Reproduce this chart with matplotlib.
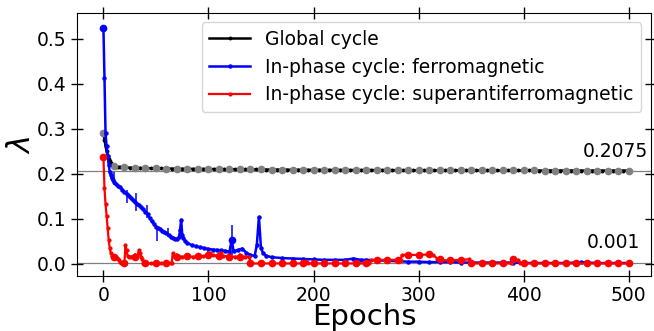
import numpy as np
import matplotlib
matplotlib.use("Agg")
from matplotlib import pyplot as plt

# global cycle
g_epochs = [0, 1, 2, 3, 4, 5, 6, 7, 8, 9, 10, 12, 14, 16, 18, 20] + list(range(25, 501, 5))
g_vals = [0.290, 0.276, 0.262, 0.250, 0.241, 0.234, 0.228, 0.224, 0.221, 0.219, 0.218,
          0.2165, 0.2158, 0.2153, 0.2150, 0.2146,
          0.2140, 0.2136, 0.2132, 0.2129, 0.2126, 0.2124, 0.2122, 0.2120, 0.2118, 0.2116,
          0.2115, 0.2113, 0.2112, 0.2111, 0.2110, 0.2109, 0.2108, 0.2107, 0.2106, 0.2105,
          0.2104, 0.2103, 0.2102, 0.2101, 0.2100, 0.2099, 0.2098, 0.2097, 0.2096, 0.2095,
          0.2094, 0.2093, 0.2092, 0.2092, 0.2091, 0.2090, 0.2090, 0.2089, 0.2089, 0.2088,
          0.2088, 0.2087, 0.2087, 0.2086, 0.2086, 0.2086, 0.2085, 0.2085, 0.2085, 0.2084,
          0.2084, 0.2084, 0.2083, 0.2083, 0.2083, 0.2082, 0.2082, 0.2082, 0.2081, 0.2081,
          0.2081, 0.2080, 0.2080, 0.2080, 0.2080, 0.2079, 0.2079, 0.2079, 0.2079, 0.2078,
          0.2078, 0.2078, 0.2078, 0.2077, 0.2077, 0.2077, 0.2077, 0.2077, 0.2076, 0.2076,
          0.2076, 0.2076, 0.2076, 0.2076, 0.2076, 0.2075, 0.2075, 0.2075, 0.2075, 0.2075,
          0.2075, 0.2075, 0.2075, 0.2075, 0.2075, 0.2075]

# in-phase ferromagnetic
b_epochs = [0, 1, 2, 3, 4, 5, 6, 7, 8, 9, 10, 12, 14, 16, 18, 20, 22, 24, 26, 28, 30,
            32, 34, 36, 38, 40, 42, 44, 46, 48, 50, 52, 54, 56, 58, 60, 62, 64, 66, 68, 70,
            72, 73, 74, 75, 76, 78, 80, 84, 88, 92, 96, 100, 104, 108, 112, 116, 120, 122,
            124, 128, 132, 136, 140, 144, 146, 148, 150, 152, 155, 160, 170, 180, 190, 200,
            210, 220, 230, 238, 245, 250, 260, 270, 280, 290, 300, 310, 320, 330, 340, 350,
            360, 370, 380, 390, 400, 410, 420, 430, 440, 450, 455, 460, 470, 480, 490, 500]
b_vals = [0.525, 0.413, 0.290, 0.262, 0.240, 0.220, 0.205, 0.197, 0.190, 0.186, 0.183,
          0.178, 0.174, 0.170, 0.165, 0.160, 0.156, 0.152, 0.147, 0.142, 0.138,
          0.134, 0.130, 0.126, 0.121, 0.116, 0.110, 0.102, 0.095, 0.089, 0.083, 0.080,
          0.077, 0.074, 0.071, 0.068, 0.064, 0.060, 0.058, 0.056, 0.055,
          0.060, 0.076, 0.098, 0.065, 0.058, 0.050, 0.046, 0.042, 0.039, 0.037, 0.035,
          0.033, 0.032, 0.031, 0.030, 0.029, 0.027, 0.053,
          0.028, 0.031, 0.034, 0.025, 0.020, 0.018, 0.042, 0.104, 0.035, 0.024, 0.018,
          0.015, 0.013, 0.012, 0.011, 0.010,
          0.009, 0.009, 0.009, 0.012, 0.009, 0.009, 0.008, 0.007, 0.006, 0.005, 0.005,
          0.004, 0.004, 0.004, 0.003, 0.003,
          0.003, 0.003, 0.003, 0.003, 0.002, 0.002, 0.002, 0.002, 0.002, 0.003, 0.004,
          0.003, 0.002, 0.002, 0.002, 0.002]
b_big = [0, 122]
b_err_ep = [10, 22, 31, 41, 51, 61, 74, 122]
b_err_val = [0.190, 0.150, 0.137, 0.116, 0.066, 0.070, 0.080, 0.053]
b_err = [0.015, 0.015, 0.020, 0.015, 0.014, 0.010, 0.018, 0.033]

# in-phase superantiferromagnetic
r_epochs = [0, 1, 2, 3, 4, 5, 6, 7, 8, 9, 10, 11, 12, 13, 14, 15, 16, 17, 18, 19, 20,
            21, 22, 23, 24, 26, 28, 30, 32, 34, 35, 36, 37, 38, 40, 45, 50, 55, 60, 64, 65,
            66, 67, 70, 75, 80, 85, 90, 95, 100, 101, 104, 108, 110, 112, 114, 120, 125,
            130, 135, 139, 140, 150, 160, 170, 180, 190, 193, 195, 200, 210, 220, 230, 240,
            250, 253, 255, 260, 270, 280, 283, 284, 290, 300, 310, 314, 318, 320, 322, 330,
            340, 348, 350, 360, 370, 380, 388, 390, 395, 397, 400, 410, 420, 430, 440, 450,
            460, 470, 480, 490, 500]
r_vals = [0.238, 0.168, 0.133, 0.107, 0.079, 0.053, 0.035, 0.024, 0.018, 0.016, 0.016,
          0.015, 0.016, 0.014, 0.012, 0.008, 0.005, 0.002, 0.001, 0.001, 0.003,
          0.042, 0.030, 0.018, 0.016, 0.016, 0.017, 0.016, 0.018, 0.031, 0.025, 0.016,
          0.010, 0.002, 0.001, 0.001, 0.001, 0.001, 0.001, 0.001, 0.002,
          0.024, 0.017, 0.016, 0.016, 0.017, 0.016, 0.017, 0.017, 0.020, 0.024, 0.020,
          0.018, 0.018, 0.024, 0.018, 0.016, 0.016,
          0.016, 0.016, 0.016, 0.001, 0.001, 0.001, 0.001, 0.001, 0.001, 0.006, 0.001,
          0.001, 0.001, 0.001, 0.001, 0.001,
          0.001, 0.001, 0.009, 0.009, 0.009, 0.009, 0.009, 0.020, 0.020, 0.020, 0.021,
          0.019, 0.012, 0.010, 0.008, 0.008,
          0.009, 0.010, 0.001, 0.001, 0.001, 0.001, 0.001, 0.010, 0.009, 0.001, 0.001,
          0.001, 0.001, 0.001, 0.001, 0.001,
          0.001, 0.001, 0.001, 0.001, 0.001]
r_err_ep = [21, 30, 34, 70, 80, 90, 100, 110, 120, 130, 290, 300, 310]
r_err_val = [0.030, 0.016, 0.025, 0.016, 0.017, 0.017, 0.020, 0.018, 0.016, 0.016, 0.020, 0.020, 0.021]
r_err = [0.012, 0.008, 0.008, 0.008, 0.008, 0.008, 0.008, 0.008, 0.008, 0.008, 0.005, 0.005, 0.005]

labels = ["Global cycle", "In-phase cycle: ferromagnetic", "In-phase cycle: superantiferromagnetic"]
final_vals = [0.2075, 0.001]

fig, ax = plt.subplots(figsize=(6.54, 3.31), dpi=100)
fig.subplots_adjust(left=0.118, right=0.995, top=0.961, bottom=0.166)

for v in final_vals:
    ax.axhline(v, color="gray", lw=0.9, zorder=1)

g_epochs = np.array(g_epochs)
g_vals = np.array(g_vals)
ax.plot(g_epochs, g_vals, "-o", color="black", lw=1.8, ms=1.8, label=labels[0], zorder=3)
m = g_epochs % 10 == 0
ax.plot(g_epochs[m], g_vals[m], "o", color="gray", ms=4.5, zorder=4)

b_epochs = np.array(b_epochs)
b_vals = np.array(b_vals)
ax.errorbar(b_err_ep, b_err_val, yerr=b_err, fmt="none", ecolor="blue", elinewidth=1.1, zorder=4)
ax.plot(b_epochs, b_vals, "-o", color="blue", lw=1.8, ms=2.2, label=labels[1], zorder=5)
mb = np.isin(b_epochs, b_big)
ax.plot(b_epochs[mb], b_vals[mb], "o", color="blue", ms=4.5, zorder=5)

r_epochs = np.array(r_epochs)
r_vals = np.array(r_vals)
ax.errorbar(r_err_ep, r_err_val, yerr=r_err, fmt="none", ecolor="red", elinewidth=1.1, zorder=6)
ax.plot(r_epochs, r_vals, "-o", color="red", lw=1.6, ms=2, label=labels[2], zorder=7)
mr = r_epochs % 10 == 0
ax.plot(r_epochs[mr], r_vals[mr], "o", color="red", ms=4.5, zorder=7)

ax.text(518, 0.237, "0.2075", ha="right", va="baseline", fontsize=13.5)
ax.text(511, 0.035, "0.001", ha="right", va="baseline", fontsize=13.5)

ax.set_xlim(-25, 521)
ax.set_ylim(-0.027, 0.558)
ax.set_xticks([0, 100, 200, 300, 400, 500])
ax.set_yticks([0.0, 0.1, 0.2, 0.3, 0.4, 0.5])
ax.tick_params(direction="inout", length=8, width=1, top=True, right=True, labelsize=13.5)
ax.set_xlabel("Epochs", fontsize=21, labelpad=-2)
ax.set_ylabel(r"$\lambda$", fontsize=22, labelpad=1)
ax.legend(loc="upper right", fontsize=13.5, handlelength=2.2, borderpad=0.4, labelspacing=0.47)

plt.savefig("out.png", dpi=100)
